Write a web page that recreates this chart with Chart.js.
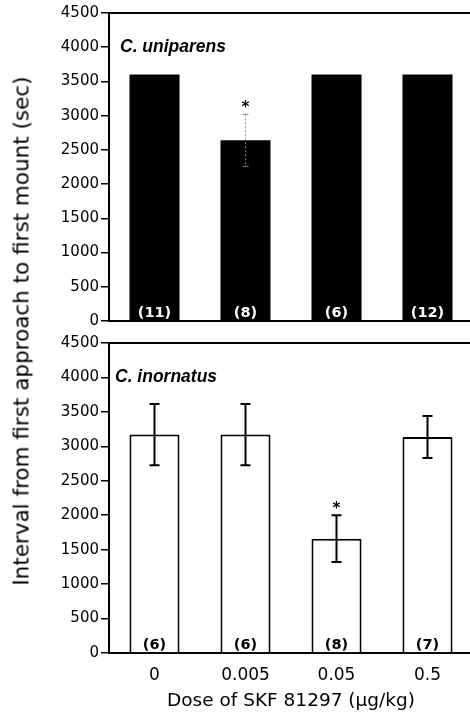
<!DOCTYPE html>
<html>
<head>
<meta charset="utf-8">
<script src="https://cdn.jsdelivr.net/npm/chart.js@4.4.1/dist/chart.umd.min.js"></script>
<style>
  body { margin: 0; background: #fff; }
  #wrap { position: relative; width: 470px; height: 713px; overflow: hidden; }
  .panel { position: absolute; left: 0; }
  #ytitle {
    position: absolute; left: 21px; top: 331px;
    transform: translate(-50%, -50%) rotate(-90deg);
    white-space: nowrap;
    font: 21.5px "DejaVu Sans", sans-serif; color: #000;
  }
</style>
</head>
<body>
<div id="wrap">
  <canvas id="top" class="panel" width="476" height="332" style="top:0"></canvas>
  <canvas id="bottom" class="panel" width="476" height="383" style="top:330px"></canvas>
  <div id="ytitle">Interval from first approach to first mount (sec)</div>
</div>
<script>
// doses on the x axis
const doses = ['0', '0.005', '0.05', '0.5'];

// C. uniparens (top panel)
const uniMean = [3600, 2640, 3600, 3600];
const uniErr  = [0, 380, 0, 0];
const uniN    = ['(11)', '(8)', '(6)', '(12)'];
const uniSig  = [false, true, false, false];

// C. inornatus (bottom panel)
const inoMean = [3170, 3170, 1660, 3135];
const inoErr  = [445, 445, 340, 305];
const inoN    = ['(6)', '(6)', '(8)', '(7)'];
const inoSig  = [false, false, true, false];

const Y_MAX  = 4500;
const Y_STEP = 500;

const TICK_FONT = { family: 'DejaVu Sans', size: 15 };

// error bars, stars, n labels, panel name and top frame line
const extras = {
    id: 'extras',
    afterDatasetsDraw(chart, args, opts)
    {
        const ctx  = chart.ctx;
        const x    = chart.scales.x;
        const y    = chart.scales.y;
        const area = chart.chartArea;

        ctx.save();

        // top frame line
        ctx.strokeStyle = '#000';
        ctx.lineWidth = 2;
        ctx.beginPath();
        ctx.moveTo(area.left, area.top);
        ctx.lineTo(area.right + 5, area.top);
        ctx.stroke();

        for (let i = 0; i < opts.mean.length; i++)
        {
            const cx = x.getPixelForValue(i);
            const err = opts.err[i];
            let topY = y.getPixelForValue(opts.mean[i]);

            if (err > 0)
            {
                const hi = y.getPixelForValue(opts.mean[i] + err);
                const lo = y.getPixelForValue(opts.mean[i] - err);
                topY = hi;
                ctx.strokeStyle = opts.errColor;
                ctx.lineWidth = opts.errWidth;
                ctx.setLineDash(opts.errDash);
                ctx.beginPath();
                ctx.moveTo(cx, hi);
                ctx.lineTo(cx, lo);
                ctx.stroke();
                ctx.setLineDash([]);
                ctx.beginPath();
                ctx.moveTo(cx - opts.cap, hi);
                ctx.lineTo(cx + opts.cap, hi);
                ctx.moveTo(cx - opts.cap, lo);
                ctx.lineTo(cx + opts.cap, lo);
                ctx.stroke();
            }

            if (opts.sig[i])
            {
                ctx.fillStyle = '#000';
                ctx.font = 'bold 15px "DejaVu Sans"';
                ctx.textAlign = 'center';
                ctx.textBaseline = 'middle';
                ctx.fillText('*', cx, topY - 6);
            }

            ctx.fillStyle = opts.nColor;
            ctx.font = 'bold 14.5px "DejaVu Sans"';
            ctx.textAlign = 'center';
            ctx.textBaseline = 'middle';
            ctx.fillText(opts.n[i], cx, area.bottom - 8);
        }

        ctx.fillStyle = '#000';
        ctx.font = 'italic bold 17.5px "Liberation Sans"';
        ctx.textAlign = 'left';
        ctx.textBaseline = 'middle';
        ctx.fillText(opts.name, opts.nameX, y.getPixelForValue(4000));

        ctx.restore();
    }
};

function makeOptions(xHeight, showX, extraOpts)
{
    return {
        responsive: false,
        animation: false,
        events: [],
        layout: { padding: { top: 13, right: 3, left: 0, bottom: 0 } },
        plugins: {
            legend: { display: false },
            tooltip: { enabled: false },
            extras: extraOpts
        },
        scales: {
            x: {
                offset: true,
                grid: { display: false },
                border: { display: true, color: '#000', width: 2 },
                ticks: {
                    display: showX,
                    color: '#000',
                    padding: 4,
                    font: { family: 'DejaVu Sans', size: 17 }
                },
                title: {
                    display: showX,
                    text: 'Dose of SKF 81297 (µg/kg)',
                    color: '#000',
                    padding: { top: 0, bottom: 1 },
                    font: { family: 'DejaVu Sans', size: 18.5 }
                },
                afterFit(s) { s.height = xHeight; }
            },
            y: {
                min: 0,
                max: Y_MAX,
                grid: {
                    drawOnChartArea: false,
                    drawTicks: true,
                    tickLength: 8,
                    color: '#000',
                    lineWidth: 1.5
                },
                border: { display: true, color: '#000', width: 2 },
                ticks: {
                    stepSize: Y_STEP,
                    color: '#000',
                    padding: 2,
                    font: TICK_FONT,
                    callback: (v) => String(v)
                },
                afterFit(s) { s.width = 109; }
            }
        }
    };
}

new Chart(document.getElementById('top'), {
    type: 'bar',
    data: {
        labels: doses,
        datasets: [{
            data: uniMean,
            backgroundColor: '#000',
            borderWidth: 0,
            barPercentage: 0.55,
            categoryPercentage: 1
        }]
    },
    options: makeOptions(10, false, {
        mean: uniMean, err: uniErr, n: uniN, sig: uniSig,
        errColor: '#8a8a8a', errWidth: 1, errDash: [2, 2], cap: 3,
        nColor: '#fff', name: 'C. uniparens', nameX: 120
    }),
    plugins: [extras]
});

new Chart(document.getElementById('bottom'), {
    type: 'bar',
    data: {
        labels: doses,
        datasets: [{
            data: inoMean,
            backgroundColor: '#fff',
            borderColor: '#000',
            borderWidth: 2,
            borderSkipped: 'bottom',
            barPercentage: 0.55,
            categoryPercentage: 1
        }]
    },
    options: makeOptions(60, true, {
        mean: inoMean, err: inoErr, n: inoN, sig: inoSig,
        errColor: '#000', errWidth: 2, errDash: [], cap: 5,
        nColor: '#000', name: 'C. inornatus', nameX: 115
    }),
    plugins: [extras]
});
</script>
</body>
</html>
